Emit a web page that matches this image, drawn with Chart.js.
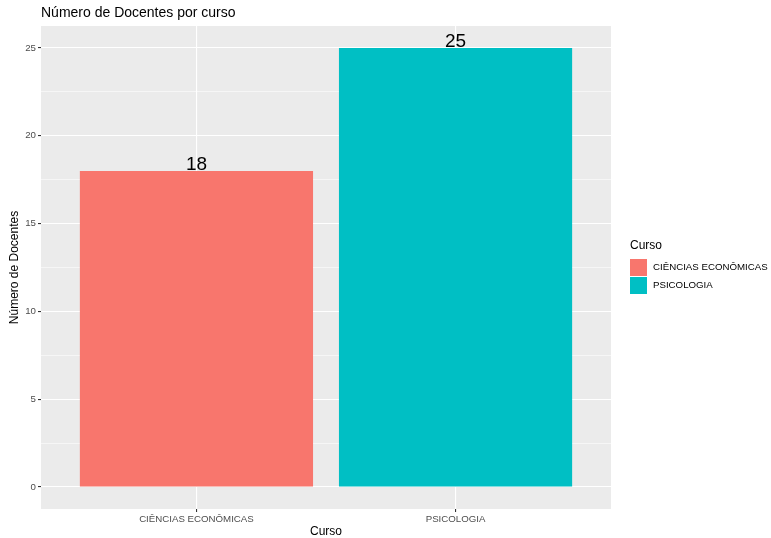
<!DOCTYPE html>
<html>
<head>
<meta charset="utf-8">
<script src="https://cdn.jsdelivr.net/npm/chart.js@4.4.1/dist/chart.umd.min.js"></script>
<style>
  html, body { margin: 0; padding: 0; background: #ffffff; }
  #wrap { width: 771px; height: 538px; position: relative; }
</style>
</head>
<body>
<div id="wrap"><canvas id="chart" width="771" height="538"></canvas></div>
<script>
// ---------------------------------------------------------------------------
// Data
// ---------------------------------------------------------------------------

var cursos = ['CIÊNCIAS ECONÔMICAS', 'PSICOLOGIA'];
var docentes = [18, 25];
var cores = ['#F8766D', '#00BFC4'];
var yTicks = [0, 2.5, 5, 7.5, 10, 12.5, 15, 17.5, 20, 22.5, 25];
var yLabels = ['0', '', '5', '', '10', '', '15', '', '20', '', '25'];

var FONT = 'Liberation Sans, Arial, Helvetica, sans-serif';

// ---------------------------------------------------------------------------
// Plugin: grey panel, title, value labels and legend (ggplot look)
// ---------------------------------------------------------------------------

var ggPlugin = {
  id: 'ggPlugin',
  beforeDraw: function(chart) {
    var a = chart.chartArea;
    var ctx = chart.ctx;
    ctx.save();
    ctx.fillStyle = '#EBEBEB';
    ctx.fillRect(a.left, a.top, a.right - a.left, a.bottom - a.top);
    ctx.restore();
  },
  afterDraw: function(chart) {
    var ctx = chart.ctx;
    var a = chart.chartArea;
    ctx.save();

    // title
    ctx.fillStyle = '#000000';
    ctx.font = '14px ' + FONT;
    ctx.textAlign = 'left';
    ctx.textBaseline = 'middle';
    ctx.fillText('Número de Docentes por curso', a.left, 13);

    // value labels above the bars
    var meta = chart.getDatasetMeta(0);
    ctx.font = '19px ' + FONT;
    ctx.textAlign = 'center';
    ctx.textBaseline = 'alphabetic';
    meta.data.forEach(function(bar, i) {
      ctx.fillText(String(docentes[i]), bar.x, bar.y - 1);
    });

    // legend
    var lx = a.right + 19;
    var ly = 246;
    ctx.font = '12px ' + FONT;
    ctx.textAlign = 'left';
    ctx.textBaseline = 'middle';
    ctx.fillText('Curso', lx, ly);
    ctx.font = '9.7px ' + FONT;
    cursos.forEach(function(c, i) {
      var top = 259 + i * 18;
      ctx.fillStyle = cores[i];
      ctx.fillRect(lx, top, 17, 17);
      ctx.fillStyle = '#000000';
      ctx.fillText(c, lx + 23, top + 8.5);
    });
    ctx.restore();
  }
};

// ---------------------------------------------------------------------------
// Chart
// ---------------------------------------------------------------------------

var ctx = document.getElementById('chart').getContext('2d');

var chart = new Chart(ctx, {
  type: 'bar',
  data: {
    datasets: [{
      data: docentes.map(function(v, i) { return { x: i + 1, y: v }; }),
      backgroundColor: cores,
      borderWidth: 0,
      barPercentage: 0.9,
      categoryPercentage: 1.0
    }]
  },
  options: {
    responsive: false,
    animation: false,
    layout: { padding: { left: 0, right: 160, top: 26, bottom: 0 } },
    plugins: {
      legend: { display: false },
      title: { display: false },
      tooltip: { enabled: false }
    },
    scales: {
      x: {
        type: 'linear',
        min: 0.4,
        max: 2.6,
        offset: false,
        afterBuildTicks: function(scale) {
          scale.ticks = cursos.map(function(c, i) { return { value: i + 1 }; });
        },
        afterFit: function(scale) { scale.height = 29; },
        border: { display: false },
        grid: {
          offset: false,
          color: '#FFFFFF',
          lineWidth: 1.1,
          tickColor: '#333333',
          tickLength: 3
        },
        ticks: {
          color: '#4D4D4D',
          font: { family: FONT, size: 9.7 },
          padding: 2,
          maxRotation: 0,
          autoSkip: false,
          callback: function(v) { return cursos[Math.round(v) - 1]; }
        },
        title: {
          display: true,
          text: 'Curso',
          color: '#000000',
          font: { family: FONT, size: 12, lineHeight: 1 },
          padding: { top: 0, bottom: 0 }
        }
      },
      y: {
        type: 'linear',
        min: -1.25,
        max: 26.25,
        afterBuildTicks: function(scale) {
          scale.ticks = yTicks.map(function(v) { return { value: v }; });
        },
        afterFit: function(scale) { scale.width = 41; },
        border: { display: false },
        grid: {
          color: '#FFFFFF',
          lineWidth: function(c) { return c.index % 2 === 0 ? 1.1 : 0.55; },
          tickColor: function(c) { return c.index % 2 === 0 ? '#333333' : 'rgba(0,0,0,0)'; },
          tickLength: 3
        },
        ticks: {
          color: '#4D4D4D',
          font: { family: FONT, size: 9.7 },
          padding: 2,
          autoSkip: false,
          callback: function(v, i) { return yLabels[i]; }
        },
        title: {
          display: true,
          text: 'Número de Docentes',
          color: '#000000',
          font: { family: FONT, size: 12 },
          padding: { top: 7, bottom: 0 }
        }
      }
    }
  },
  plugins: [ggPlugin]
});
</script>
</body>
</html>
